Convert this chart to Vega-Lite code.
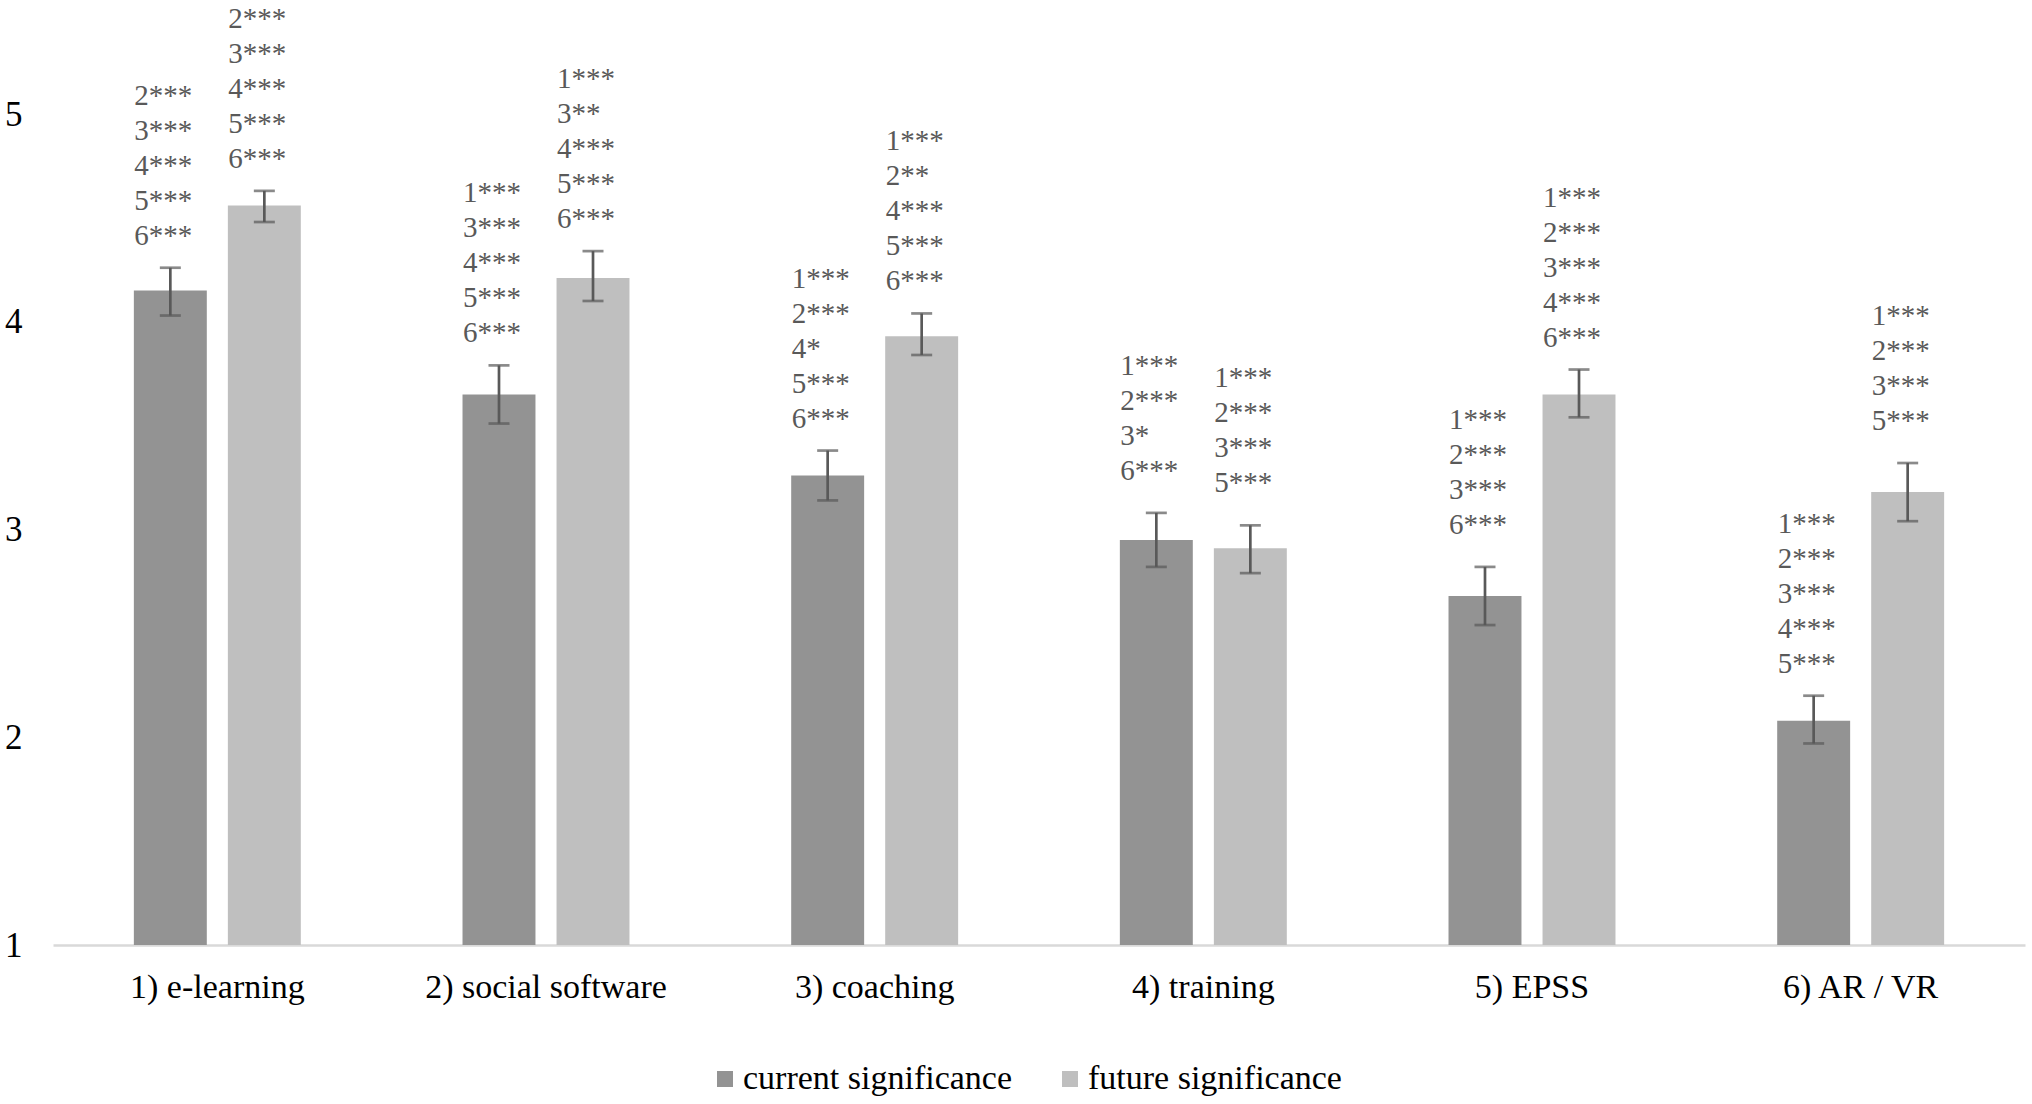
{
  "$schema": "https://vega.github.io/schema/vega-lite/v6.json",
  "width": 1972,
  "height": 831,
  "autosize": {"type": "none"},
  "padding": {"left": 53, "top": 114, "right": 7, "bottom": 159},
  "background": "white",
  "config": {"view": {"stroke": null}},
  "data": {
    "values": [
      {"cat": "1) e-learning", "series": "current significance", "mean": 4.15, "lo": 4.03, "hi": 4.26, "sig": "2***\n3***\n4***\n5***\n6***"},
      {"cat": "1) e-learning", "series": "future significance", "mean": 4.56, "lo": 4.48, "hi": 4.63, "sig": "2***\n3***\n4***\n5***\n6***"},
      {"cat": "2) social software", "series": "current significance", "mean": 3.65, "lo": 3.51, "hi": 3.79, "sig": "1***\n3***\n4***\n5***\n6***"},
      {"cat": "2) social software", "series": "future significance", "mean": 4.21, "lo": 4.10, "hi": 4.34, "sig": "1***\n3**\n4***\n5***\n6***"},
      {"cat": "3) coaching", "series": "current significance", "mean": 3.26, "lo": 3.14, "hi": 3.38, "sig": "1***\n2***\n4*\n5***\n6***"},
      {"cat": "3) coaching", "series": "future significance", "mean": 3.93, "lo": 3.84, "hi": 4.04, "sig": "1***\n2**\n4***\n5***\n6***"},
      {"cat": "4) training", "series": "current significance", "mean": 2.95, "lo": 2.82, "hi": 3.08, "sig": "1***\n2***\n3*\n6***"},
      {"cat": "4) training", "series": "future significance", "mean": 2.91, "lo": 2.79, "hi": 3.02, "sig": "1***\n2***\n3***\n5***"},
      {"cat": "5) EPSS", "series": "current significance", "mean": 2.68, "lo": 2.54, "hi": 2.82, "sig": "1***\n2***\n3***\n6***"},
      {"cat": "5) EPSS", "series": "future significance", "mean": 3.65, "lo": 3.54, "hi": 3.77, "sig": "1***\n2***\n3***\n4***\n6***"},
      {"cat": "6) AR / VR", "series": "current significance", "mean": 2.08, "lo": 1.97, "hi": 2.20, "sig": "1***\n2***\n3***\n4***\n5***"},
      {"cat": "6) AR / VR", "series": "future significance", "mean": 3.18, "lo": 3.04, "hi": 3.32, "sig": "1***\n2***\n3***\n5***"}
    ]
  },
  "encoding": {
    "x": {
      "field": "cat",
      "type": "nominal",
      "sort": null,
      "title": null,
      "scale": {"paddingInner": 0.492, "paddingOuter": 0.246},
      "axis": {
        "labelAngle": 0,
        "labelFont": "Liberation Serif",
        "labelFontSize": 34,
        "labelColor": "black",
        "labelPadding": 25,
        "labelLimit": 0,
        "ticks": false,
        "domainColor": "#d9d9d9",
        "domainWidth": 2.5
      }
    },
    "xOffset": {
      "field": "series",
      "type": "nominal",
      "scale": {"paddingInner": 0.224, "paddingOuter": 0}
    }
  },
  "layer": [
    {
      "mark": {"type": "bar"},
      "encoding": {
        "y": {
          "field": "mean",
          "type": "quantitative",
          "title": null,
          "scale": {"domain": [1, 5], "zero": false, "nice": false},
          "axis": {
            "values": [1, 2, 3, 4, 5],
            "format": "d",
            "grid": false,
            "domain": false,
            "ticks": false,
            "labelFont": "Liberation Serif",
            "labelFontSize": 35,
            "labelColor": "black",
            "labelPadding": 31
          }
        },
        "y2": {"datum": 1},
        "color": {
          "field": "series",
          "type": "nominal",
          "title": null,
          "scale": {"range": ["#939393", "#bfbfbf"]},
          "legend": {
            "orient": "none",
            "direction": "horizontal",
            "legendX": 655,
            "legendY": 948,
            "padding": 0,
            "symbolType": "square",
            "symbolSize": 256,
            "symbolStrokeWidth": 0,
            "labelFont": "Liberation Serif",
            "labelFontSize": 34,
            "labelColor": "black",
            "labelLimit": 0,
            "labelOffset": 1,
            "columnPadding": 40
          }
        }
      }
    },
    {
      "mark": {"type": "rule", "color": "#595959", "strokeWidth": 2.7},
      "encoding": {
        "y": {"field": "lo", "type": "quantitative"},
        "y2": {"field": "hi"}
      }
    },
    {
      "mark": {"type": "tick", "color": "#595959", "thickness": 2.7, "size": 21},
      "encoding": {
        "y": {"field": "lo", "type": "quantitative"}
      }
    },
    {
      "mark": {"type": "tick", "color": "#595959", "thickness": 2.7, "size": 21},
      "encoding": {
        "y": {"field": "hi", "type": "quantitative"}
      }
    },
    {
      "transform": [{"filter": "length(split(datum.sig, '\\n')) == 5"}],
      "mark": {
        "type": "text",
        "font": "Liberation Serif",
        "fontSize": 29,
        "color": "#595959",
        "align": "left",
        "baseline": "bottom",
        "lineBreak": "\n",
        "lineHeight": 35,
        "dx": -36,
        "dy": -157
      },
      "encoding": {
        "y": {"field": "hi", "type": "quantitative"},
        "text": {"field": "sig"}
      }
    },
    {
      "transform": [{"filter": "length(split(datum.sig, '\\n')) == 4"}],
      "mark": {
        "type": "text",
        "font": "Liberation Serif",
        "fontSize": 29,
        "color": "#595959",
        "align": "left",
        "baseline": "bottom",
        "lineBreak": "\n",
        "lineHeight": 35,
        "dx": -36,
        "dy": -132
      },
      "encoding": {
        "y": {"field": "hi", "type": "quantitative"},
        "text": {"field": "sig"}
      }
    }
  ]
}
